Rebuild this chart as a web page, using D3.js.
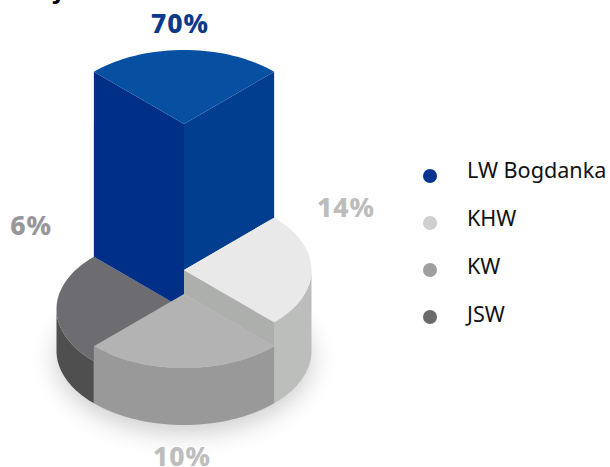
<!DOCTYPE html>
<html><head><meta charset="utf-8">
<script src="https://cdn.jsdelivr.net/npm/d3@7"></script>
<style>html,body{margin:0;padding:0;background:#fff}svg{display:block}</style>
</head><body><svg id="c" width="610" height="467"></svg>
<script>
const categories = ["LW Bogdanka","KHW","KW","JSW"];
const values = [70,14,10,6];
const valueLabels = ["70%","14%","10%","6%"];
const legendColors = ["#013594","#cfcfcf","#9f9f9f","#6b6b6b"];
const topColors = ["#074fa0","#e9e9e9","#b3b3b3","#6d6c70"];
const wallColors = ["#023e8f","#bcbebc","#999999","#4f4f4f"];
const innerColors = ["#002f87","#adafad"];
const labelColors = ["#0b3a8c","#bdbdbd","#bdbdbd","#97979b"];

(function(){
const svg = d3.select("#c");
const cx = 184, baseY = 351, rx = 127.5, ry = 74;
// extrusion height is not proportional in the reference, so a piecewise scale
const h = d3.scaleLinear().domain([6,10,14,70]).range([42,57,81,227]);
const topY = v => baseY - h(v);
const slices = d3.pie().value(()=>1).sort(null).startAngle(-Math.PI/4).endAngle(7*Math.PI/4)(values);
const px = a => cx + rx*Math.sin(a);
const py = (a,c) => c - ry*Math.cos(a);
const line = d3.line();
const arcPts = (a0,a1,c) => d3.range(0,41).map(i=>{const a=a0+(a1-a0)*i/40;return [px(a),py(a,c)];});

const defs = svg.append("defs");
defs.append("filter").attr("id","sh").attr("x","-30%").attr("y","-60%").attr("width","160%").attr("height","220%")
  .append("feGaussianBlur").attr("stdDeviation",13);
svg.append("ellipse").attr("cx",cx).attr("cy",baseY+8).attr("rx",rx).attr("ry",ry)
  .attr("fill","#000").attr("opacity",0.2).attr("filter","url(#sh)");

const poly = (pts,fill)=>svg.append("path").attr("d",line(pts)+"Z").attr("fill",fill);
const wall = i=>{
  const s=slices[i], a0=Math.max(s.startAngle,Math.PI/2), a1=Math.min(s.endAngle,3*Math.PI/2);
  poly(arcPts(a0,a1,topY(values[i])).concat(arcPts(a1,a0,baseY)),wallColors[i]);
};
const face = i=>{
  const s=slices[i], c=topY(values[i]);
  poly([[cx,c]].concat(arcPts(s.startAngle,s.endAngle,c)),topColors[i]);
};
const corner=(a,c)=>[px(a),py(a,c)];

// JSW (back left, lowest)
wall(3); face(3);
// LW Bogdanka column: two inner faces reach down to the neighbour tops
const b=slices[0], bt=topY(values[0]);
poly([[cx,bt],corner(b.startAngle,bt),corner(b.startAngle,topY(values[3])),[cx,topY(values[3])]],innerColors[0]);
poly([[cx,bt],corner(b.endAngle,bt),corner(b.endAngle,topY(values[1])),[cx,topY(values[1])]],wallColors[0]);
face(0);
// KHW
wall(1);
const w=slices[1], wt=topY(values[1]), kt=topY(values[2]);
poly([[cx,wt],corner(w.endAngle,wt),corner(w.endAngle,kt),[cx,kt]],innerColors[1]);
face(1);
// KW (front)
wall(2); face(2);

const labelPos=[[180,33],[346,217],[182,466],[31,235]];
svg.selectAll("text.v").data(valueLabels).join("text").attr("class","v")
  .attr("x",(d,i)=>labelPos[i][0]).attr("y",(d,i)=>labelPos[i][1])
  .attr("text-anchor","middle").attr("fill",(d,i)=>labelColors[i])
  .attr("font-family","'Noto Sans',sans-serif").attr("font-weight",800).attr("font-size",26.5).attr("letter-spacing",0.9).text(d=>d);

const ly = d3.scalePoint().domain(categories).range([176,317]);
const ty = d3.scalePoint().domain(categories).range([178,322]);
svg.selectAll("circle.l").data(categories).join("circle").attr("class","l")
  .attr("cx",430).attr("cy",d=>ly(d)).attr("r",7).attr("fill",(d,i)=>legendColors[i]);
svg.selectAll("text.l").data(categories).join("text").attr("class","l")
  .attr("x",467).attr("y",d=>ty(d)).attr("fill","#111")
  .attr("font-family","'Noto Sans',sans-serif").attr("font-size",21.6).text(d=>d);

svg.append("text").attr("x",52).attr("y",-2).attr("fill","#000").attr("font-family","'Noto Sans',sans-serif").attr("font-weight",700).attr("font-size",24).text("y");
})();
</script></body></html>
